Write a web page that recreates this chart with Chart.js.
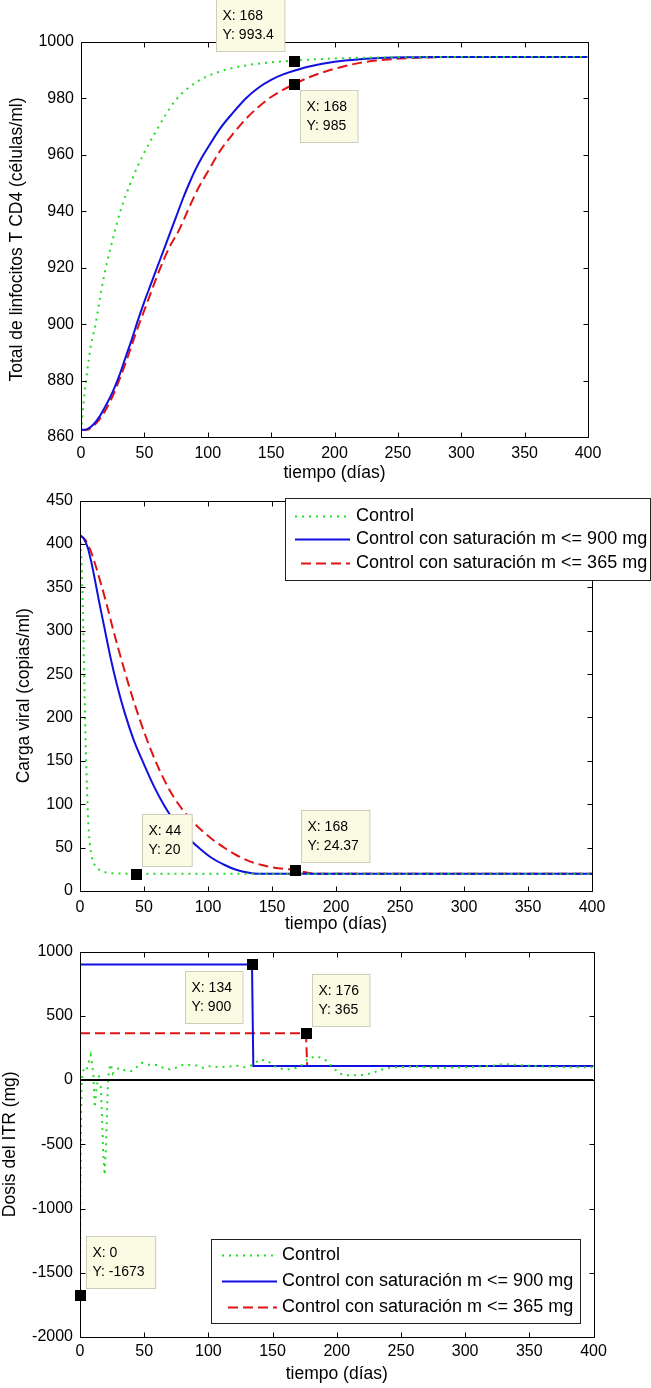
<!DOCTYPE html>
<html>
<head>
<meta charset="utf-8">
<script src="https://cdn.jsdelivr.net/npm/chart.js@4/dist/chart.umd.min.js"></script>
<style>
html,body{margin:0;padding:0;background:#fff;}
body{width:651px;height:1388px;position:relative;overflow:hidden;}
.box{position:absolute;left:0;width:651px;}
canvas{display:block;}
</style>
</head>
<body>
<div class="box" style="top:0;height:484px"><canvas id="c1" width="651" height="484" style="width:651px;height:484px"></canvas></div>
<div class="box" style="top:484px;height:451px"><canvas id="c2" width="651" height="451" style="width:651px;height:451px"></canvas></div>
<div class="box" style="top:935px;height:450px"><canvas id="c3" width="651" height="450" style="width:651px;height:450px"></canvas></div>
<script>
// ---------- shared ----------
const seriesNames = ['Control', 'Control con saturación m <= 900 mg', 'Control con saturación m <= 365 mg'];
const xTicks = [0, 50, 100, 150, 200, 250, 300, 350, 400];
const xTitle = 'tiempo (días)';

// ---------- chart 1: CD4 ----------
const cd4Title = 'Total de linfocitos T CD4 (células/ml)';
const cd4Ticks = [860, 880, 900, 920, 940, 960, 980, 1000];
const cd4CtrlDays = [0, 1, 2, 4, 6, 8, 11.5, 16, 19.6, 25, 31, 40, 49, 60, 74, 90, 110, 130, 150, 168, 190, 220, 260, 300, 400];
const cd4CtrlVals = [862, 867, 872, 880, 887, 893, 900, 912, 920, 930, 940, 951, 960, 969, 979, 985.5, 989.6, 991.7, 992.8, 993.4, 994, 994.4, 994.6, 994.7, 994.7];
const cd4HiDays = [0, 5, 10, 15, 20, 25, 30, 35, 40, 45, 50, 55, 60, 65, 70, 75, 80, 85, 90, 95, 100, 110, 120, 130, 140, 150, 160, 168, 180, 200, 220, 240, 260, 280, 400];
const cd4HiVals = [862.5, 862.8, 864.5, 867.5, 871.5, 876, 881.5, 888, 894.5, 901.5, 908, 914, 920, 926, 932, 938, 944, 949.5, 954.5, 958.8, 962.5, 969.5, 975, 980, 983.8, 986.6, 988.6, 989.8, 991.3, 993, 993.9, 994.4, 994.6, 994.7, 994.7];
const cd4LoDays = [0, 5, 10, 15, 20, 25, 30, 35, 40, 45, 50, 55, 60, 65, 70, 77, 85, 93, 100, 110, 120, 130, 140, 150, 160, 168, 180, 200, 220, 240, 260, 280, 300, 400];
const cd4LoVals = [862.5, 862.6, 864, 866.5, 870, 874.5, 880, 886, 892.5, 899, 905, 911, 917, 922.5, 927.5, 933, 941, 948.6, 954, 961.6, 967.5, 972.7, 977, 980.5, 983.2, 985, 987.5, 990.5, 992.6, 993.7, 994.3, 994.6, 994.7, 994.7];
const cd4TipX = [168, 168];
const cd4TipY = [993.4, 985];

// ---------- chart 2: viral load ----------
const vlTitle = 'Carga viral (copias/ml)';
const vlTicks = [0, 50, 100, 150, 200, 250, 300, 350, 400, 450];
const vlCtrlDays = [0, 1, 2, 3, 4, 5, 6, 7, 8, 9, 10, 12, 15, 20, 25, 30, 44, 400];
const vlCtrlVals = [410, 385, 340, 270, 195, 140, 95, 66, 50, 41, 35, 29, 24.5, 21.5, 20.5, 20.1, 20, 20];
const vlHiDays = [0, 3, 6, 9, 12, 15, 19, 24, 29, 35, 42, 50, 58, 66, 74, 84, 93.5, 103, 113, 122, 132, 139, 400];
const vlHiVals = [410, 406, 396, 378, 356, 333, 304, 268, 237, 205, 174, 146, 120, 98, 80, 62, 49, 38, 30, 24.5, 21, 20, 20];
const vlLoDays = [0, 4, 7.8, 12, 16, 20, 25.6, 30, 35, 40, 48, 55, 61, 69, 77, 85, 93.5, 103, 113, 122, 132, 142, 152, 160, 168, 172, 178, 185, 400];
const vlLoVals = [410, 405, 394, 376, 356, 335, 303, 279, 253, 228, 192, 164, 143, 119, 100, 85, 72, 60, 49.6, 41.5, 34.5, 30, 26.8, 25.3, 24.37, 22.8, 21, 20, 20];
const vlTipX = [44, 168];
const vlTipY = [20, 24.37];

// ---------- chart 3: dose ----------
const dsTitle = 'Dosis del ITR (mg)';
const dsTicks = [-2000, -1500, -1000, -500, 0, 500, 1000];
const dsCtrlDays = [0, 0.3, 0.7, 1.2, 2, 3.5, 5, 6.5, 8.3, 9.5, 10.5, 11.5, 12.5, 13.5, 15, 16, 17, 18, 19.2, 20.5, 21.5, 22.5, 24, 25.5, 28, 31, 35, 40, 44, 48, 53, 60, 65, 70, 76, 81, 86, 91, 96, 102, 108, 115, 122, 128, 134, 140, 146, 152, 158, 166, 172, 178, 185, 192, 197, 202, 210, 220, 228, 234, 245, 260, 280, 300, 320, 330, 345, 360, 380, 400];
const dsCtrlVals = [-1673, -900, -400, -50, 60, 95, 80, 130, 195, 120, 30, -215, -100, -20, 40, -10, -250, -550, -740, -450, -100, 80, 125, 50, 80, 96, 75, 70, 100, 135, 120, 117, 95, 83, 100, 122, 115, 114, 95, 109, 100, 105, 112, 100, 115, 160, 150, 105, 85, 85, 110, 170, 185, 150, 100, 50, 35, 40, 55, 80, 100, 105, 95, 100, 110, 125, 115, 105, 100, 100];
const dsHiDays = [0, 134, 135, 400];
const dsHiVals = [900, 900, 110, 110];
const dsLoDays = [0, 176, 177, 400];
const dsLoVals = [365, 365, 110, 110];
const dsZeroDays = [0, 400];
const dsZeroVals = [0, 0];
const dsTipX = [134, 176, 0];
const dsTipY = [900, 365, -1673];

// ---------- styles ----------
const GREEN = '#22dd22', BLUE = '#1010e0', RED = '#e01414';
const FONT = "'Liberation Sans', Arial, Helvetica, sans-serif";
Chart.defaults.font.family = FONT;
Chart.defaults.color = '#000';

const pts = (xs, ys) => xs.map((x, i) => ({x: x, y: ys[i]}));

function seriesSets(d1, v1, d2, v2, d3, v3, smooth) {
  const mode = smooth ? {cubicInterpolationMode: 'monotone'} : {tension: 0};
  return [
    Object.assign({label: seriesNames[0], data: pts(d1, v1), borderColor: GREEN, borderWidth: 2, borderDash: [2, 5], pointRadius: 0}, mode),
    Object.assign({label: seriesNames[1], data: pts(d2, v2), borderColor: BLUE, borderWidth: 2, pointRadius: 0}, mode),
    Object.assign({label: seriesNames[2], data: pts(d3, v3), borderColor: RED, borderWidth: 2, borderDash: [10, 5], pointRadius: 0}, mode)
  ];
}

const framePlugin = {
  id: 'frame',
  afterDatasetsDraw(chart) {
    const ctx = chart.ctx, a = chart.chartArea, xs = chart.scales.x, ys = chart.scales.y;
    const L = 5;
    const l = Math.round(a.left) + 0.5, r = Math.round(a.right) + 0.5, t = Math.round(a.top) + 0.5, b = Math.round(a.bottom) + 0.5;
    ctx.save();
    ctx.strokeStyle = '#000';
    ctx.lineWidth = 1;
    ctx.setLineDash([]);
    ctx.beginPath();
    ctx.moveTo(l, t); ctx.lineTo(r, t); ctx.lineTo(r, b); ctx.lineTo(l, b); ctx.closePath();
    xs.ticks.forEach(tk => {
      const p = Math.round(xs.getPixelForValue(tk.value)) + 0.5;
      ctx.moveTo(p, b); ctx.lineTo(p, b - L);
      ctx.moveTo(p, t); ctx.lineTo(p, t + L);
    });
    ys.ticks.forEach(tk => {
      const p = Math.round(ys.getPixelForValue(tk.value)) + 0.5;
      ctx.moveTo(l, p); ctx.lineTo(l + L, p);
      ctx.moveTo(r, p); ctx.lineTo(r - L, p);
    });
    ctx.stroke();
    ctx.restore();
  }
};

function tipsPlugin(tx, ty, offsets) {
  return {
    id: 'tips',
    afterDraw(chart) {
      const ctx = chart.ctx, xs = chart.scales.x, ys = chart.scales.y;
      ctx.save();
      ctx.setLineDash([]);
      ctx.font = '14px ' + FONT;
      ctx.textBaseline = 'middle';
      tx.forEach((xv, i) => {
        const px = xs.getPixelForValue(xv), py = ys.getPixelForValue(ty[i]);
        const l1 = 'X: ' + xv, l2 = 'Y: ' + ty[i];
        const w = Math.max(ctx.measureText(l1).width, ctx.measureText(l2).width) + 17;
        const bx = Math.round(px + (offsets[i][0] === 'L' ? -(w + 6 + 4) : 6)) + 0.5;
        const by = Math.round(py + offsets[i][1]) + 0.5;
        ctx.fillStyle = '#fbfbe3';
        ctx.fillRect(bx, by, w, 52);
        ctx.strokeStyle = '#cdcdbb';
        ctx.lineWidth = 1;
        ctx.strokeRect(bx, by, w, 52);
        ctx.fillStyle = '#000';
        ctx.fillText(l1, bx + 6, by + 17);
        ctx.fillText(l2, bx + 6, by + 36);
        ctx.fillRect(Math.round(px) - 5, Math.round(py) - 5, 11, 11);
      });
      ctx.restore();
    }
  };
}

function legendPlugin(place) {
  return {
    id: 'legendBox',
    afterDraw(chart) {
      const ctx = chart.ctx, a = chart.chartArea;
      const g = place(a);
      ctx.save();
      ctx.fillStyle = '#fff';
      ctx.fillRect(g.x, g.y, g.w, g.h);
      ctx.strokeStyle = '#222';
      ctx.lineWidth = 1;
      ctx.setLineDash([]);
      ctx.strokeRect(g.x + 0.5, g.y + 0.5, g.w, g.h);
      ctx.font = '18px ' + FONT;
      ctx.textBaseline = 'middle';
      const styles = [[GREEN, [2, 5], 0], [BLUE, [], 0], [RED, [10, 5], 6]];
      seriesNames.forEach((name, i) => {
        const yy = Math.round(g.y + g.first + i * g.gap) + 0.5;
        ctx.strokeStyle = styles[i][0];
        ctx.lineWidth = 2;
        ctx.setLineDash(styles[i][1]);
        ctx.beginPath();
        ctx.moveTo(g.x + g.s0 + styles[i][2], yy);
        ctx.lineTo(g.x + g.s1, yy);
        ctx.stroke();
        ctx.fillStyle = '#000';
        ctx.fillText(name, g.x + g.tx, yy);
      });
      ctx.restore();
    }
  };
}

function makeChart(id, cfg) {
  return new Chart(document.getElementById(id), {
    type: 'line',
    data: {datasets: cfg.datasets},
    options: {
      responsive: false,
      animation: false,
      devicePixelRatio: 1,
      layout: {padding: cfg.padding},
      plugins: {legend: {display: false}, tooltip: {enabled: false}},
      scales: {
        x: {
          type: 'linear', min: xTicks[0], max: xTicks[xTicks.length - 1],
          afterBuildTicks: s => { s.ticks = xTicks.map(v => ({value: v})); },
          afterFit: s => { s.height = cfg.xh; },
          grid: {display: false, drawTicks: false},
          border: {display: false},
          ticks: {autoSkip: false, maxRotation: 0, padding: cfg.xpad, font: {size: 16}, color: '#000', callback: v => String(v)},
          title: {display: true, text: xTitle, font: {size: 17.5}, color: '#000', padding: 0}
        },
        y: {
          type: 'linear', min: cfg.yt[0], max: cfg.yt[cfg.yt.length - 1],
          afterBuildTicks: s => { s.ticks = cfg.yt.map(v => ({value: v})); },
          afterFit: s => { s.width = cfg.yw; },
          grid: {display: false, drawTicks: false},
          border: {display: false},
          ticks: {autoSkip: false, padding: 7, font: {size: 16}, color: '#000', callback: v => String(v)},
          title: {display: true, text: cfg.ytitle, font: {size: 17.5}, color: '#000', padding: {top: cfg.ytpad, bottom: 0}}
        }
      }
    },
    plugins: [framePlugin].concat(cfg.plugins)
  });
}

// chart 1
makeChart('c1', {
  datasets: seriesSets(cd4CtrlDays, cd4CtrlVals, cd4HiDays, cd4HiVals, cd4LoDays, cd4LoVals, true),
  padding: {left: 0, right: 63, top: 42, bottom: 0},
  xh: 47, yw: 81, xpad: 7, ytpad: 7, yt: cd4Ticks, ytitle: cd4Title,
  plugins: [tipsPlugin(cd4TipX, cd4TipY, [['L', -62], ['R', 6]])]
});

// chart 2
makeChart('c2', {
  datasets: seriesSets(vlCtrlDays, vlCtrlVals, vlHiDays, vlHiVals, vlLoDays, vlLoVals, true),
  padding: {left: 0, right: 59, top: 14, bottom: 0},
  xh: 44, yw: 80, xpad: 7, ytpad: 14, yt: vlTicks, ytitle: vlTitle,
  plugins: [tipsPlugin(vlTipX, vlTipY, [['R', -60], ['R', -60]]),
            legendPlugin(a => ({x: Math.round(a.left) + 205, y: Math.round(a.top) - 3, w: 365, h: 82, first: 17.5, gap: 23.5, s0: 10, s1: 65, tx: 71}))]
});

// chart 3
const ds3 = seriesSets(dsCtrlDays, dsCtrlVals, dsHiDays, dsHiVals, dsLoDays, dsLoVals, false);
ds3.unshift({label: 'cero', data: pts(dsZeroDays, dsZeroVals), borderColor: '#000', borderWidth: 2, pointRadius: 0, tension: 0});
makeChart('c3', {
  datasets: ds3,
  padding: {left: 0, right: 57.5, top: 15, bottom: 0},
  xh: 48, yw: 80, xpad: 5, ytpad: 0, yt: dsTicks, ytitle: dsTitle,
  plugins: [tipsPlugin(dsTipX, dsTipY, [['L', 7], ['R', -59], ['R', -59]]),
            legendPlugin(a => ({x: Math.round(a.left) + 131, y: Math.round(a.bottom) - 98, w: 369, h: 84, first: 16, gap: 26, s0: 11, s1: 66, tx: 71}))]
});
</script>
</body>
</html>
